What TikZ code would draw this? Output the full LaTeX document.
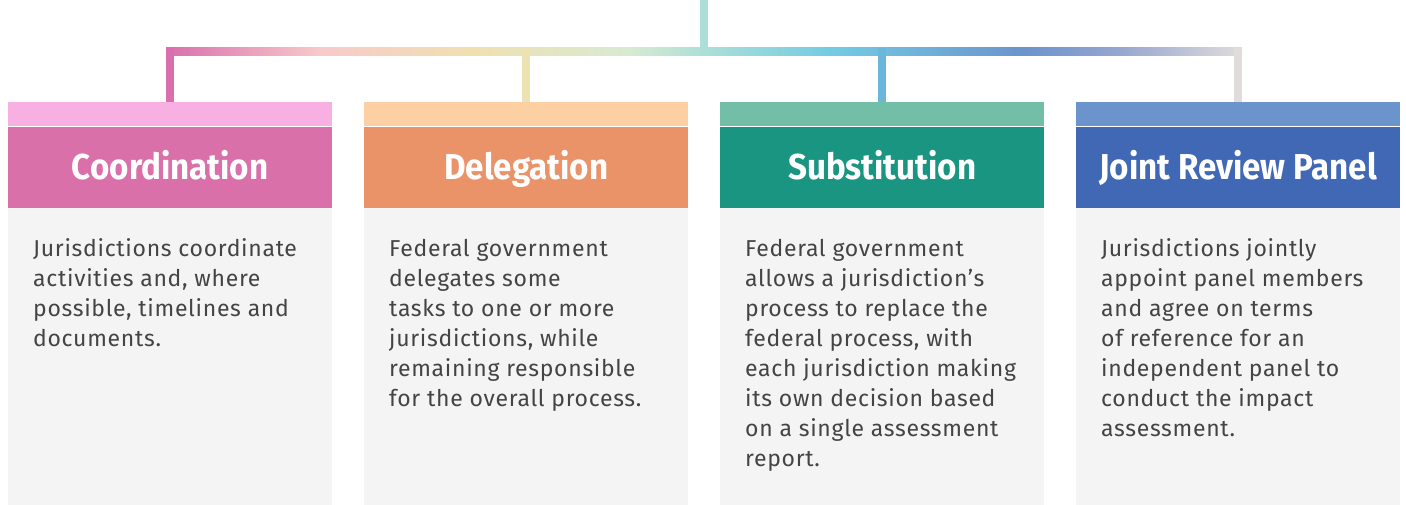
\documentclass[tikz,border=0pt]{standalone}
\usepackage{fontspec}
\setmainfont[LetterSpace=3]{Fira Sans}
\newfontfamily\headfont[FakeStretch=0.92]{Fira Sans}
\usepackage{xcolor}
\usetikzlibrary{positioning,calc}

\definecolor{coordlight}{HTML}{F8B0E3}
\definecolor{coorddark}{HTML}{D970AA}
\definecolor{deleglight}{HTML}{FCD0A2}
\definecolor{delegdark}{HTML}{EA9368}
\definecolor{substlight}{HTML}{72BEA6}
\definecolor{substdark}{HTML}{1A9582}
\definecolor{jointlight}{HTML}{6B93CC}
\definecolor{jointdark}{HTML}{4068B5}
\definecolor{bodygray}{HTML}{F4F4F4}
\definecolor{textgray}{HTML}{444444}

\definecolor{grA}{HTML}{D96FAD}
\definecolor{grB}{HTML}{F8CACA}
\definecolor{grC}{HTML}{F0E0B0}
\definecolor{grD}{HTML}{D8EAD2}
\definecolor{grE}{HTML}{ACDFD8}
\definecolor{grF}{HTML}{72CBE3}
\definecolor{grG}{HTML}{6B93CC}
\definecolor{grH}{HTML}{97A7D0}
\definecolor{grI}{HTML}{E0DCDC}
\definecolor{dropB}{HTML}{EDE2B3}
\definecolor{dropC}{HTML}{6BB6DB}

\pgfdeclarehorizontalshading{bargrad}{100bp}{color(0bp)=(grA); color(25bp)=(grA); color(32.2bp)=(grB); color(39.2bp)=(grC); color(46.5bp)=(grD); color(50bp)=(grE); color(56bp)=(grF); color(64.9bp)=(grG); color(69.4bp)=(grH); color(75bp)=(grI); color(100bp)=(grI)}

\tikzset{
	stripbox/.style={minimum width=324pt, minimum height=24pt, inner sep=0pt, anchor=north west},
	headbox/.style={minimum width=324pt, minimum height=81pt, inner sep=0pt, anchor=north, text height=24pt, text depth=0pt, text=white, font=\headfont\bfseries\fontsize{36}{40}\selectfont},
	bodybox/.style={fill=bodygray, minimum width=324pt, minimum height=298pt, inner sep=0pt, anchor=north},
	bodytext/.style={anchor=north west, align=left, inner sep=0pt, text=textgray, font=\fontsize{23}{30}\selectfont, xshift=25pt, yshift=-31pt},
	drop/.style={line width=8pt},
}

\begin{document}
\begin{tikzpicture}[x=1pt,y=-1pt]
		\useasboundingbox (0,0) rectangle (1406,505);
		
		% columns
		\node[stripbox, fill=coordlight] (s1) at (8,102) {};
		\node[headbox, fill=coorddark] (h1) at (s1.south) {Coordination};
		\node[bodybox] (b1) at (h1.south) {};
		\node[bodytext] (t1) at (b1.north west) {Jurisdictions coordinate\\activities and, where\\possible, timelines and\\documents.};
		
		\node[stripbox, fill=deleglight] (s2) at (364,102) {};
		\node[headbox, fill=delegdark] (h2) at (s2.south) {Delegation};
		\node[bodybox] (b2) at (h2.south) {};
		\node[bodytext] (t2) at (b2.north west) {Federal government\\delegates some\\tasks to one or more\\jurisdictions, while\\remaining responsible\\for the overall process.};
		
		\node[stripbox, fill=substlight] (s3) at (720,102) {};
		\node[headbox, fill=substdark] (h3) at (s3.south) {Substitution};
		\node[bodybox] (b3) at (h3.south) {};
		\node[bodytext] (t3) at (b3.north west) {Federal government\\allows a jurisdiction’s\\process to replace the\\federal process, with\\each jurisdiction making\\its own decision based\\on a single assessment\\report.};
		
		\node[stripbox, fill=jointlight] (s4) at (1076,102) {};
		\node[headbox, fill=jointdark] (h4) at (s4.south) {Joint Review Panel};
		\node[bodybox] (b4) at (h4.south) {};
		\node[bodytext] (t4) at (b4.north west) {Jurisdictions jointly\\appoint panel members\\and agree on terms\\of reference for an\\independent panel to\\conduct the impact\\assessment.};
		
		% gradient bar
		\coordinate (top) at (704,0);
		\coordinate (bar) at (704,48);
		\fill[shading=bargrad] (166,48) rectangle (1242,56);
		\draw[drop, grE] (top) -- (bar);
		\draw[drop, grA] (s1.north) -- (s1.north |- bar);
		\draw[drop, dropB] (s2.north) -- (s2.north |- bar);
		\draw[drop, dropC] (s3.north) -- (s3.north |- bar);
		\draw[drop, grI] (s4.north) -- (s4.north |- bar);
	\end{tikzpicture}
\end{document}
